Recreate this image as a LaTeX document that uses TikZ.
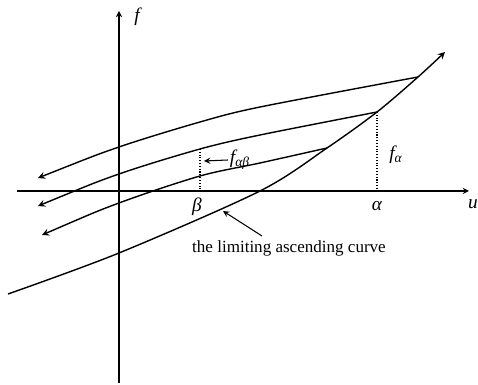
\documentclass[tikz,border=0pt]{standalone}
\usepackage{fontspec}
\setmainfont{Liberation Serif}
\usepackage{tikz}
\tikzset{
  axis/.style={draw=black,line width=0.6pt,-stealth},
  branch/.style={draw=black,line width=0.8pt,stealth-},
  limit curve/.style={draw=black,line width=0.8pt,-stealth},
  guide/.style={draw=black,densely dotted,line width=0.6pt},
  pointer/.style={draw=black,line width=0.6pt,-stealth},
  lbl/.style={font=\fontsize{11}{12}\selectfont\itshape,inner sep=1pt},
  note/.style={font=\fontsize{9.7}{11}\selectfont,inner sep=1pt}
}

\begin{document}
\begin{tikzpicture}[x=0.02cm,y=-0.02cm]
  \useasboundingbox (0,0) rectangle (478,385);
  % axes
  \coordinate (fbot) at (119,383);
  \coordinate (ftop) at (119,11);
  \coordinate (uleft) at (17,191);
  \coordinate (uright) at (469,191);
  \draw[axis] (fbot) -- (ftop);
  \draw[axis] (uleft) -- (uright);
  \node[lbl] (f) at (137,17) {f};
  \node[lbl] (u) at (473,204) {u};
  % limiting ascending curve
  \coordinate (l0) at (8,294);
  \coordinate (l3) at (327,148);
  \coordinate (l2) at (377,112);
  \coordinate (l1) at (418,77);
  \coordinate (lend) at (445,52);
  \draw[limit curve] plot[smooth] coordinates {(l0) (119,253) (260,191) (l3) (l2) (l1) (lend)};
  % descending branches
  \coordinate (b1) at (38,178);
  \coordinate (b2) at (38,206);
  \coordinate (b3) at (42,235);
  \draw[branch] plot[smooth] coordinates {(b1) (119,147) (200,122) (260,107) (l1)};
  \draw[branch] plot[smooth] coordinates {(b2) (119,174) (200,149) (260,135) (l2)};
  \draw[branch] plot[smooth] coordinates {(b3) (119,203) (200,176) (260,163) (l3)};
  % beta and alpha
  \coordinate (btop) at (200,149);
  \coordinate (bfoot) at (200,191);
  \coordinate (afoot) at (377,191);
  \draw[guide] (btop) -- (bfoot);
  \draw[guide] (l2) -- (afoot);
  \node[lbl] (beta) at (197,207) {β};
  \node[lbl] (alpha) at (377,206) {α};
  \node[lbl] (fa) at (396,155) {f\textsubscript{α}};
  \node[lbl] (fab) at (240,160) {f\textsubscript{αβ}};
  \coordinate (fabtip) at (204,161);
  \draw[pointer] (fab.west) -- (fabtip);
  % note
  \node[note] (limit) at (289,248) {the limiting ascending curve};
  \coordinate (ltail) at (262,236);
  \coordinate (ltip) at (223,211);
  \draw[pointer] (ltail) -- (ltip);
\end{tikzpicture}
\end{document}
